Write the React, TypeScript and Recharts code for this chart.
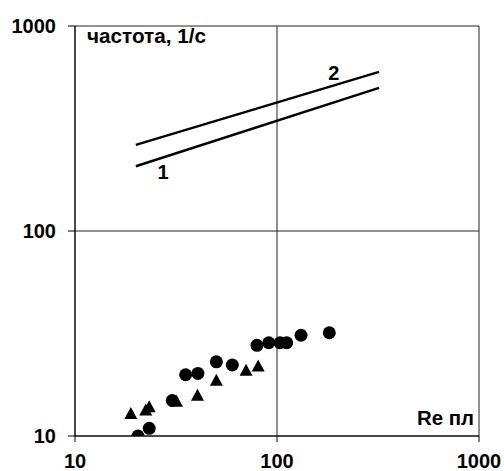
import {
  ComposedChart,
  Line,
  Scatter,
  XAxis,
  YAxis,
  CartesianGrid,
  Label,
  ReferenceDot,
} from "recharts";

// curves 1 and 2 (Re пл -> частота)
const line1 = [
  { x: 20, y: 207 },
  { x: 320, y: 499 },
];
const line2 = [
  { x: 20, y: 263 },
  { x: 320, y: 597 },
];

// experiment, circles
const circleRe = [20.5, 23.3, 30.3, 35.3, 40.6, 50.1, 60.1, 79.6, 91, 103.5, 111.7, 131.5, 181.5];
const circleF = [10, 10.9, 14.9, 19.9, 20.2, 23.0, 22.2, 27.7, 28.5, 28.5, 28.5, 31.0, 31.9];

// experiment, triangles
const triRe = [18.9, 22.4, 23.3, 31.8, 40.4, 50.1, 70.3, 80.7];
const triF = [12.8, 13.3, 13.8, 14.7, 15.7, 18.6, 20.8, 21.8];

const ticks = [10, 100, 1000];

const circles = circleRe.map((x, i) => ({ x, y: circleF[i] }));
const triangles = triRe.map((x, i) => ({ x, y: triF[i] }));

const font = "'Liberation Sans', Arial, sans-serif";

const Circle = (props: any) => <circle cx={props.cx} cy={props.cy} r={6.5} fill="#000" />;

const Triangle = (props: any) => {
  const { cx, cy } = props;
  return <polygon points={`${cx},${cy - 7} ${cx + 6.5},${cy + 5} ${cx - 6.5},${cy + 5}`} fill="#000" />;
};

const tickStyle = { fill: "#000", fontSize: 20, fontWeight: "bold", fontFamily: font };

export default function App() {
  return (
    <div style={{ position: "absolute", left: 0, top: 0, background: "#fff" }}>
      <ComposedChart width={504} height={471} margin={{ top: 26, right: 25, left: 0, bottom: 0 }}>
        <CartesianGrid stroke="#222" strokeWidth={1} />
        <XAxis
          dataKey="x"
          type="number"
          scale="log"
          domain={[10, 1000]}
          ticks={ticks}
          allowDataOverflow
          height={35}
          stroke="#000"
          tickSize={6}
          tickMargin={12}
          tick={tickStyle}
        />
        <YAxis
          dataKey="y"
          type="number"
          scale="log"
          domain={[10, 1000]}
          ticks={ticks}
          allowDataOverflow
          width={75}
          stroke="#000"
          tickSize={7}
          tickMargin={12}
          tick={tickStyle}
        />
        <Line data={line1} dataKey="y" stroke="#000" strokeWidth={2.5} dot={false} isAnimationActive={false} />
        <Line data={line2} dataKey="y" stroke="#000" strokeWidth={2.5} dot={false} isAnimationActive={false} />
        <Scatter data={circles} dataKey="y" shape={Circle} isAnimationActive={false} />
        <Scatter data={triangles} dataKey="y" shape={Triangle} isAnimationActive={false} />
        <ReferenceDot x={27.3} y={194} r={0} label={{ value: "1", style: tickStyle, position: "center" }} />
        <ReferenceDot x={191} y={590} r={0} label={{ value: "2", style: tickStyle, position: "center" }} />
        <text x={87} y={43} textLength={119} lengthAdjust="spacingAndGlyphs" style={tickStyle}>
          частота, 1/с
        </text>
        <text x={474} y={425} textAnchor="end" textLength={57} lengthAdjust="spacingAndGlyphs" style={tickStyle}>
          Re пл
        </text>
      </ComposedChart>
    </div>
  );
}
